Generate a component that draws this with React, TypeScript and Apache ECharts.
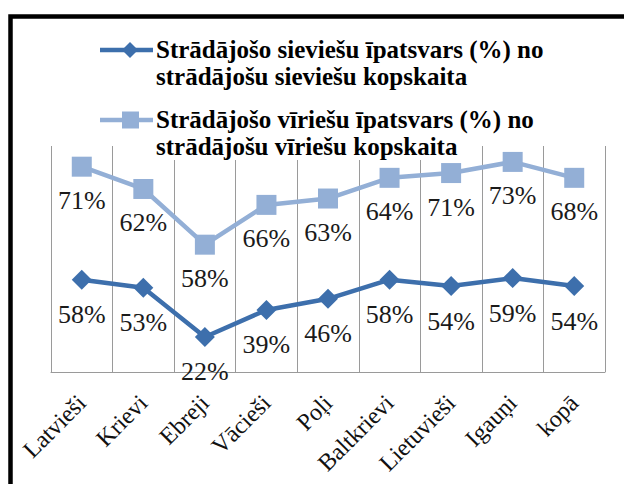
import React, { useEffect, useRef } from "react";
import * as echarts from "echarts";

const categories = ["Latvieši", "Krievi", "Ebreji", "Vācieši", "Poļi", "Baltkrievi", "Lietuvieši", "Igauņi", "kopā"];
const womenValues = [58, 53, 22, 39, 46, 58, 54, 59, 54];
const menValues = [71, 62, 58, 66, 63, 64, 71, 73, 68];
const womenName = "Strādājošo sieviešu īpatsvars (%) no\nstrādājošu sieviešu kopskaita";
const menName = "Strādājošo vīriešu īpatsvars (%) no\nstrādājošu vīriešu kopskaita";

const WOMEN_COLOR = "#3D6FAC";
const MEN_COLOR = "#93AFD6";
const SERIF = "Times New Roman";

function legendLines(name: string, top: number) {
  return name.split("\n").map((line, i) => ({
    type: "text",
    z: 100,
    x: 156,
    y: top + i * 27,
    style: {
      text: line,
      fontFamily: SERIF,
      fontWeight: "bold",
      fontSize: 25,
      lineHeight: 27,
      fill: "#000",
      backgroundColor: "#fff",
    },
  }));
}

export default function App() {
  const ref = useRef<HTMLDivElement>(null);
  useEffect(() => {
    if (!ref.current) return;
    const chart = echarts.init(ref.current, null, { renderer: "svg" });
    const labelCfg = {
      show: true,
      position: "bottom",
      distance: 11,
      color: "#1a1a1a",
      fontFamily: SERIF,
      fontSize: 26,
      formatter: (p: any) => p.value + "%",
    };
    chart.setOption({
      animation: false,
      backgroundColor: "#ffffff",
      textStyle: { fontFamily: SERIF },
      grid: { left: 51, right: 19, top: 146, bottom: 112, containLabel: false },
      xAxis: {
        type: "category",
        data: categories,
        boundaryGap: true,
        axisLine: { show: true, lineStyle: { color: "#9a9a9a", width: 1 } },
        axisTick: { show: false },
        splitLine: { show: true, lineStyle: { color: "#9a9a9a", width: 1 } },
        axisLabel: {
          rotate: 45,
          margin: 27,
          color: "#111",
          fontFamily: SERIF,
          fontSize: 24,
          interval: 0,
        },
      },
      yAxis: { type: "value", min: 0, max: 142, show: false, splitLine: { show: false } },
      series: [
        {
          name: womenName,
          type: "line",
          stack: "total",
          data: womenValues,
          symbol: "diamond",
          symbolSize: 20,
          itemStyle: { color: WOMEN_COLOR },
          lineStyle: { color: WOMEN_COLOR, width: 4.5 },
          label: { ...labelCfg, distance: 12 },
          z: 3,
        },
        {
          name: menName,
          type: "line",
          stack: "total",
          data: menValues,
          symbol: "rect",
          symbolSize: 20,
          itemStyle: { color: MEN_COLOR },
          lineStyle: { color: MEN_COLOR, width: 4.5 },
          label: labelCfg,
          z: 3,
        },
      ],
      graphic: [
        {
          type: "rect",
          shape: { x: 10.5, y: 16.5, width: 800, height: 700 },
          style: { fill: "none", stroke: "#000", lineWidth: 4.5 },
          z: 200,
        },
        { type: "line", z: 100, shape: { x1: 100, y1: 50, x2: 153, y2: 50 }, style: { stroke: WOMEN_COLOR, lineWidth: 4.5 } },
        { type: "polygon", z: 100, shape: { points: [[130, 42], [138, 50], [130, 58], [122, 50]] }, style: { fill: WOMEN_COLOR } },
        ...legendLines(womenName, 36),
        { type: "line", z: 100, shape: { x1: 100, y1: 120, x2: 153, y2: 120 }, style: { stroke: MEN_COLOR, lineWidth: 4.5 } },
        { type: "rect", z: 100, shape: { x: 122, y: 111.5, width: 17, height: 17 }, style: { fill: MEN_COLOR } },
        ...legendLines(menName, 106),
      ],
    });
    return () => chart.dispose();
  }, []);
  return <div ref={ref} style={{ position: "fixed", left: 0, top: 0, width: 624, height: 484 }} />;
}
